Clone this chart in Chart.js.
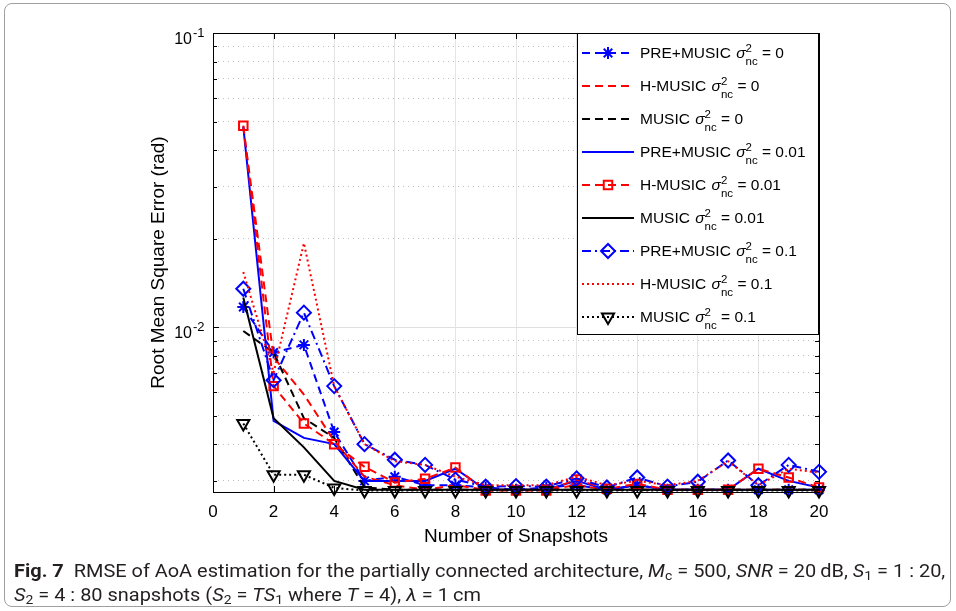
<!DOCTYPE html>
<html>
<head>
<meta charset="utf-8">
<script src="https://cdn.jsdelivr.net/npm/chart.js@4.4.1/dist/chart.umd.min.js"></script>
<style>
  html, body { margin: 0; padding: 0; background: #fff; }
  body { width: 956px; height: 611px; position: relative; overflow: hidden; font-family: "Liberation Sans", Arial, sans-serif; }
  #frame { position: absolute; left: 4px; top: 3px; width: 945px; height: 602px; border: 1px solid #a0a0a0; border-radius: 8px; }
  #wrap { position: absolute; left: 0; top: 0; width: 956px; height: 560px; }
  #caption { position: absolute; left: 14px; top: 559px; font-family: Roboto, "Liberation Sans", sans-serif; font-size: 18px; color: #231f20; white-space: nowrap; transform-origin: 0 0; line-height: 24px; }
  #caption b { font-weight: 700; }
  #caption sub { font-size: 70%; vertical-align: -3px; line-height: 0; }
</style>
</head>
<body>
<div id="frame"></div>
<div id="wrap"><canvas id="rmse"></canvas></div>
<div id="caption">
  <div id="cap1"><b>Fig. 7</b>&nbsp; RMSE of AoA estimation for the partially connected architecture, <i>M</i><sub>c</sub> = 500, <i>SNR</i> = 20&#8201;dB, <i>S</i><sub>1</sub> = 1 : 20,</div>
  <div id="cap2"><i>S</i><sub>2</sub> = 4 : 80 snapshots (<i>S</i><sub>2</sub> = <i>TS</i><sub>1</sub> where <i>T</i> = 4), <i>&#955;</i> = 1&#8201;cm</div>
</div>
<script>
// data //
const snapshots = [1, 2, 3, 4, 5, 6, 7, 8, 9, 10, 11, 12, 13, 14, 15, 16, 17, 18, 19, 20];

const preMusic0   = [0.0117, 0.0082, 0.0087, 0.0044, 0.0030, 0.0031, 0.0029, 0.0029, 0.00285, 0.0028, 0.00285, 0.0029, 0.0028, 0.0029, 0.0028, 0.0028, 0.0028, 0.0028, 0.0028, 0.0028];
const hMusic0     = [0.048, 0.0079, 0.0059, 0.0041, 0.0031, 0.0029, 0.0028, 0.0029, 0.0028, 0.0028, 0.0028, 0.0029, 0.0028, 0.0028, 0.0028, 0.0028, 0.0028, 0.0028, 0.0028, 0.0028];
const music0      = [0.0097, 0.0082, 0.0049, 0.0042, 0.00285, 0.0028, 0.0028, 0.0028, 0.0028, 0.0028, 0.0028, 0.0028, 0.0028, 0.0028, 0.0028, 0.0028, 0.0028, 0.0028, 0.0028, 0.0028];
const preMusic001 = [0.048, 0.0048, 0.0042, 0.0040, 0.0030, 0.0030, 0.0030, 0.0033, 0.0028, 0.0028, 0.0028, 0.0030, 0.0028, 0.0029, 0.0028, 0.0028, 0.0028, 0.0033, 0.0030, 0.00285];
const hMusic001   = [0.0484, 0.0063, 0.0047, 0.0040, 0.00335, 0.00296, 0.00305, 0.00333, 0.00278, 0.00278, 0.00278, 0.00303, 0.00282, 0.00293, 0.0028, 0.0028, 0.0028, 0.0033, 0.00308, 0.00285];
const music001    = [0.0126, 0.0049, 0.0039, 0.0030, 0.0028, 0.0028, 0.0028, 0.0028, 0.0028, 0.0028, 0.0028, 0.0028, 0.0028, 0.0028, 0.0028, 0.0028, 0.0028, 0.0028, 0.0028, 0.0028];
const preMusic01  = [0.0135, 0.0066, 0.0112, 0.0063, 0.0040, 0.00354, 0.0034, 0.00303, 0.00287, 0.00288, 0.00287, 0.00306, 0.00285, 0.00308, 0.00287, 0.00298, 0.00352, 0.0029, 0.0034, 0.00322];
const hMusic01    = [0.0154, 0.0070, 0.0193, 0.0063, 0.0040, 0.0035, 0.0034, 0.0031, 0.0029, 0.0029, 0.0029, 0.0031, 0.0029, 0.0030, 0.0029, 0.0030, 0.0035, 0.0029, 0.0033, 0.0032];
const music01     = [0.0047, 0.00315, 0.00315, 0.00284, 0.00278, 0.00278, 0.00278, 0.00278, 0.00278, 0.00278, 0.00278, 0.00278, 0.00278, 0.00278, 0.00278, 0.00278, 0.00278, 0.00278, 0.00278, 0.00278];

const seriesNames = ['PRE+MUSIC', 'H-MUSIC', 'MUSIC', 'PRE+MUSIC', 'H-MUSIC', 'MUSIC', 'PRE+MUSIC', 'H-MUSIC', 'MUSIC'];
const noiseLevels = ['0', '0', '0', '0.01', '0.01', '0.01', '0.1', '0.1', '0.1'];

const xTicks = [0, 2, 4, 6, 8, 10, 12, 14, 16, 18, 20];
const yGrid = [0.003, 0.004, 0.005, 0.006, 0.007, 0.008, 0.009, 0.01, 0.02, 0.03, 0.04, 0.05, 0.06, 0.07, 0.08, 0.09, 0.1];
const yLabelled = [0.01, 0.1];

const BLUE = '#0000ff', RED = '#ff0000', BLACK = '#000000';
const DASH = [8, 5], DASHDOT = [9, 4, 2, 4], DOT = [2, 3];

function pts(vals) {
  return vals.map((v, i) => ({ x: snapshots[i], y: v }));
}

function series(i, vals, color, dash, marker, radius, rot) {
  return {
    label: seriesNames[i] + ' σ²nc = ' + noiseLevels[i],
    data: pts(vals),
    borderColor: color,
    borderWidth: 2,
    borderDash: dash,
    pointStyle: marker || 'circle',
    pointRadius: marker ? radius : 0,
    pointHoverRadius: marker ? radius : 0,
    pointRotation: rot || 0,
    pointBorderWidth: 2,
    pointBorderColor: color,
    pointBackgroundColor: 'rgba(0,0,0,0)',
    tension: 0,
    fill: false,
    clip: false,
    order: 9 - i
  };
}

const datasets = [
  series(0, preMusic0, BLUE, DASH, 'star', 6),
  series(1, hMusic0, RED, DASH),
  series(2, music0, BLACK, DASH),
  series(3, preMusic001, BLUE, []),
  series(4, hMusic001, RED, DASH, 'rect', 6),
  series(5, music001, BLACK, []),
  series(6, preMusic01, BLUE, DASHDOT, 'rectRot', 7),
  series(7, hMusic01, RED, DOT),
  series(8, music01, BLACK, DOT, 'triangle', 7, 180)
];

function isMajor(v) {
  return yLabelled.some(m => Math.abs(m - v) < 1e-9);
}

// legend with sigma^2_nc text
function drawLegend(chart) {
  const ctx = chart.ctx;
  const bx = 577, by = 33, bw = 241, bh = 301;
  ctx.fillStyle = '#fff';
  ctx.fillRect(bx, by, bw, bh);
  ctx.strokeStyle = '#000';
  ctx.lineWidth = 1;
  ctx.setLineDash([]);
  ctx.strokeRect(bx + 0.5, by + 0.5, bw, bh);

  chart.data.datasets.forEach((ds, i) => {
    const cy = by + 20 + i * 33;
    ctx.save();
    ctx.strokeStyle = ds.borderColor;
    ctx.lineWidth = ds.borderWidth;
    ctx.setLineDash(ds.borderDash || []);
    ctx.beginPath();
    ctx.moveTo(582, cy);
    ctx.lineTo(634, cy);
    ctx.stroke();
    ctx.setLineDash([]);
    if (ds.pointRadius > 0) {
      ctx.fillStyle = 'rgba(0,0,0,0)';
      ctx.lineWidth = ds.pointBorderWidth;
      Chart.helpers.drawPoint(ctx, {
        pointStyle: ds.pointStyle, radius: ds.pointRadius,
        rotation: ds.pointRotation, borderWidth: ds.pointBorderWidth
      }, 608, cy);
    }
    ctx.restore();

    const base = cy + 5;
    let tx = 640;
    ctx.fillStyle = '#000';
    ctx.textAlign = 'left';
    ctx.textBaseline = 'alphabetic';
    ctx.font = '15.5px "Liberation Sans"';
    const head = seriesNames[i] + ' ';
    ctx.fillText(head, tx, base);
    tx += ctx.measureText(head).width + 1;
    ctx.font = 'italic 15.5px "Liberation Sans"';
    ctx.fillText('σ', tx, base);
    tx += ctx.measureText('σ').width;
    ctx.font = '11.5px "Liberation Sans"';
    ctx.fillText('2', tx, base - 6);
    ctx.fillText('nc', tx, base + 7);
    tx += ctx.measureText('nc').width;
    ctx.font = '15.5px "Liberation Sans"';
    ctx.fillText(' = ' + noiseLevels[i], tx, base);
  });
}

const matlabFrame = {
  id: 'matlabFrame',
  afterDatasetsDraw(chart) {
    const { ctx, chartArea: a, scales: { x, y } } = chart;
    ctx.save();
    ctx.strokeStyle = '#000';
    ctx.lineWidth = 1;
    ctx.setLineDash([]);
    ctx.strokeRect(Math.round(a.left) + 0.5, Math.round(a.top) + 0.5,
      Math.round(a.right - a.left), Math.round(a.bottom - a.top));

    ctx.beginPath();
    xTicks.forEach(v => {
      const px = Math.round(x.getPixelForValue(v)) + 0.5;
      ctx.moveTo(px, a.bottom); ctx.lineTo(px, a.bottom - 6);
      ctx.moveTo(px, a.top); ctx.lineTo(px, a.top + 6);
    });
    yGrid.forEach(v => {
      const py = Math.round(y.getPixelForValue(v)) + 0.5;
      const len = isMajor(v) ? 6 : 4;
      ctx.moveTo(a.left, py); ctx.lineTo(a.left + len, py);
      ctx.moveTo(a.right, py); ctx.lineTo(a.right - len, py);
    });
    ctx.stroke();

    // 10^n labels
    ctx.fillStyle = '#000';
    ctx.textBaseline = 'alphabetic';
    yLabelled.forEach(v => {
      const py = y.getPixelForValue(v);
      const exp = String(Math.round(Math.log10(v)));
      ctx.font = '16px "Liberation Sans"';
      ctx.textAlign = 'right';
      ctx.fillText('10', 192, py + 11);
      ctx.font = '13px "Liberation Sans"';
      ctx.textAlign = 'left';
      ctx.fillText(exp, 193, py + 4);
    });

    drawLegend(chart);
    ctx.restore();
  }
};

new Chart(document.getElementById('rmse'), {
  type: 'line',
  data: { datasets: datasets },
  options: {
    responsive: true,
    maintainAspectRatio: false,
    animation: false,
    layout: { padding: { top: 33, right: 137, left: 0, bottom: 0 } },
    plugins: { legend: { display: false }, tooltip: { enabled: false } },
    scales: {
      x: {
        type: 'linear', min: 0, max: 20,
        afterBuildTicks: s => { s.ticks = xTicks.map(v => ({ value: v })); },
        afterFit: s => { s.height = 68; },
        ticks: { font: { size: 17, family: '"Liberation Sans"' }, color: '#000', padding: 10, maxRotation: 0 },
        grid: { color: '#e4e4e4', drawTicks: false, tickLength: 0 },
        border: { display: false },
        title: {
          display: true, text: 'Number of Snapshots', color: '#000',
          font: { size: 19, family: '"Liberation Sans"' }, padding: { top: 0, bottom: 12 }
        }
      },
      y: {
        type: 'logarithmic', min: 0.00275, max: 0.1,
        afterBuildTicks: s => { s.ticks = yGrid.map(v => ({ value: v, major: isMajor(v) })); },
        afterFit: s => { s.width = 213; },
        ticks: { display: false },
        grid: {
          color: c => isMajor(c.tick.value) ? '#e0e0e0' : '#bdbdbd',
          drawTicks: false, tickLength: 0
        },
        border: { display: false, dash: c => (c.tick && isMajor(c.tick.value)) ? [] : [1, 4] },
        title: {
          display: true, text: 'Root Mean Square Error (rad)', color: '#000',
          font: { size: 19, family: '"Liberation Sans"' }, padding: { top: 147, bottom: 0 }
        }
      }
    }
  },
  plugins: [matlabFrame]
});

// fit caption to the figure width
const cap = document.getElementById('caption');
const w1 = document.getElementById('cap1').scrollWidth;
cap.style.transform = 'scaleX(' + (931 / w1) + ')';
</script>
</body>
</html>
